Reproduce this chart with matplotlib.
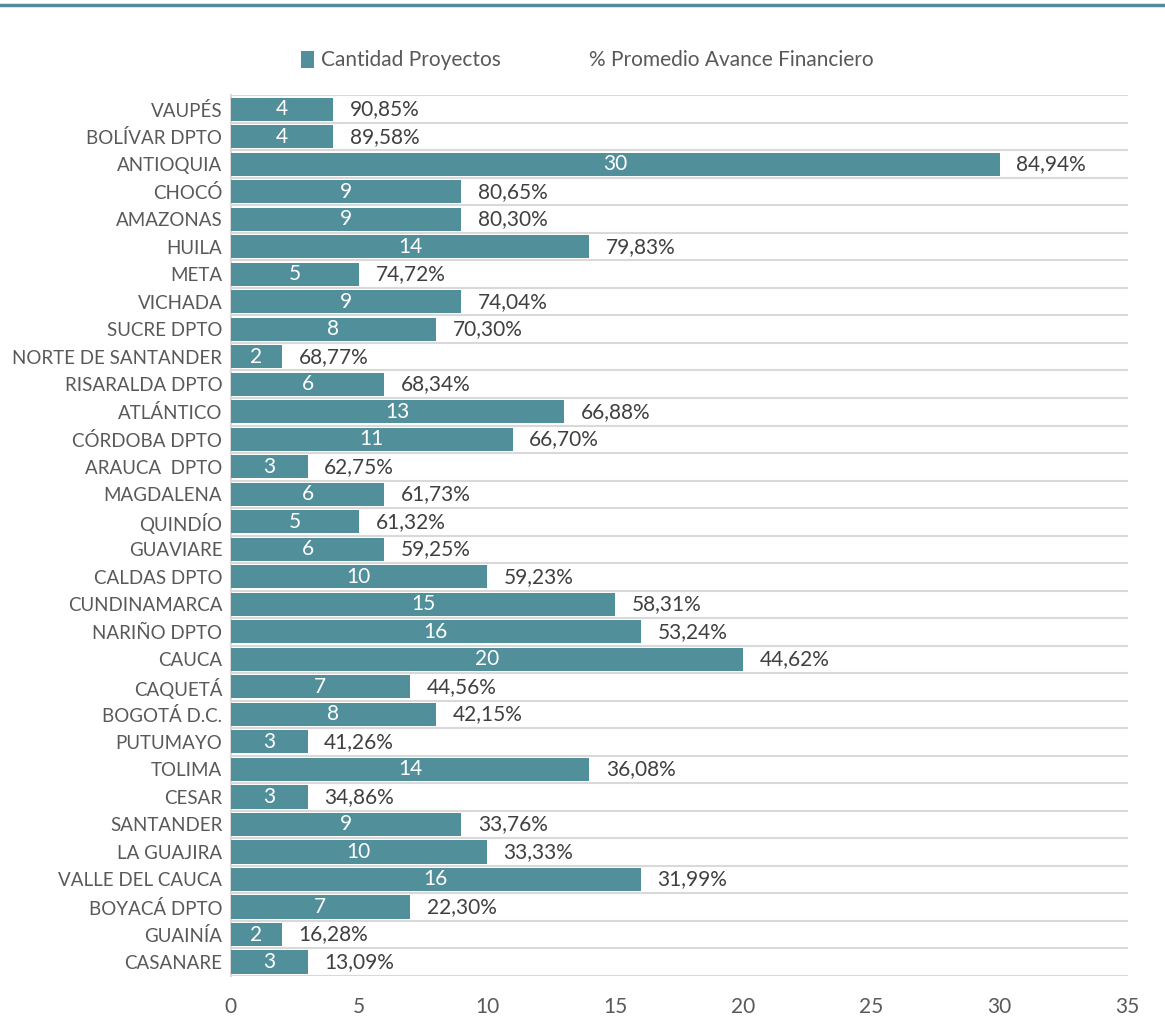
import matplotlib.pyplot as plt
from matplotlib.patches import Patch
from matplotlib.lines import Line2D

# departamentos, de arriba hacia abajo
departamentos = ["VAUPÉS", "BOLÍVAR DPTO", "ANTIOQUIA", "CHOCÓ", "AMAZONAS", "HUILA", "META",
                 "VICHADA", "SUCRE DPTO", "NORTE DE SANTANDER", "RISARALDA DPTO", "ATLÁNTICO",
                 "CÓRDOBA DPTO", "ARAUCA  DPTO", "MAGDALENA", "QUINDÍO", "GUAVIARE", "CALDAS DPTO",
                 "CUNDINAMARCA", "NARIÑO DPTO", "CAUCA", "CAQUETÁ", "BOGOTÁ D.C.", "PUTUMAYO",
                 "TOLIMA", "CESAR", "SANTANDER", "LA GUAJIRA", "VALLE DEL CAUCA", "BOYACÁ DPTO",
                 "GUAINÍA", "CASANARE"]
cantidad = [4, 4, 30, 9, 9, 14, 5, 9, 8, 2, 6, 13, 11, 3, 6, 5, 6, 10, 15, 16, 20, 7, 8, 3,
            14, 3, 9, 10, 16, 7, 2, 3]
avance = ["90,85%", "89,58%", "84,94%", "80,65%", "80,30%", "79,83%", "74,72%", "74,04%",
          "70,30%", "68,77%", "68,34%", "66,88%", "66,70%", "62,75%", "61,73%", "61,32%",
          "59,25%", "59,23%", "58,31%", "53,24%", "44,62%", "44,56%", "42,15%", "41,26%",
          "36,08%", "34,86%", "33,76%", "33,33%", "31,99%", "22,30%", "16,28%", "13,09%"]
xticks = [0, 5, 10, 15, 20, 25, 30, 35]

teal = "#518F9B"
grid_c = "#D9D9D9"
txt = "#404040"

plt.rcParams['font.family'] = ['Lato', 'DejaVu Sans']

fig = plt.figure(figsize=(11.65, 10.25), dpi=100)
ax = fig.add_axes([0.198, 0.048, 0.77, 0.859])

n = len(departamentos)
ys = list(range(n))
ax.barh(ys, cantidad, height=0.84, color=teal, zorder=3)

for y, c, p in zip(ys, cantidad, avance):
    ax.text(c / 2, y, str(c), ha="center", va="center", color="white", fontsize=15, zorder=4)
    ax.annotate(p, (c, y), xytext=(12, 0), textcoords="offset points",
                ha="left", va="center", color=txt, fontsize=15, zorder=4)

# lineas horizontales entre categorias
for b in range(n + 1):
    ax.axhline(b - 0.5, color=grid_c, lw=1.5, zorder=1)

ax.set_ylim(n - 0.5, -0.5)
ax.set_xlim(0, 35)
ax.set_xticks(xticks)
ax.set_xticklabels([str(t) for t in xticks], fontsize=15, color="#595959")
ax.set_yticks(ys)
ax.set_yticklabels(departamentos, fontsize=13.5, color="#595959")
ax.tick_params(axis="both", length=0)
ax.tick_params(axis="x", pad=15)
ax.tick_params(axis="y", pad=6)
for s in ["top", "right", "bottom"]:
    ax.spines[s].set_visible(False)
ax.spines["left"].set_color(grid_c)
ax.spines["left"].set_linewidth(1.5)

handles = [Patch(facecolor=teal, edgecolor="none"),
           Patch(facecolor="none", edgecolor="none")]
fig.legend(handles, ["Cantidad Proyectos", "% Promedio Avance Financiero"],
           loc="center", bbox_to_anchor=(0.504, 0.941), ncol=2, frameon=False,
           fontsize=15, labelcolor="#595959", handlelength=0.65, handleheight=0.9,
           handletextpad=0.3, columnspacing=3.3)

# linea superior
fig.add_artist(Line2D([0, 1], [0.9955, 0.9955], color="#4F8E99", lw=2.5,
                      transform=fig.transFigure))

fig.savefig("out.png", dpi=100)
